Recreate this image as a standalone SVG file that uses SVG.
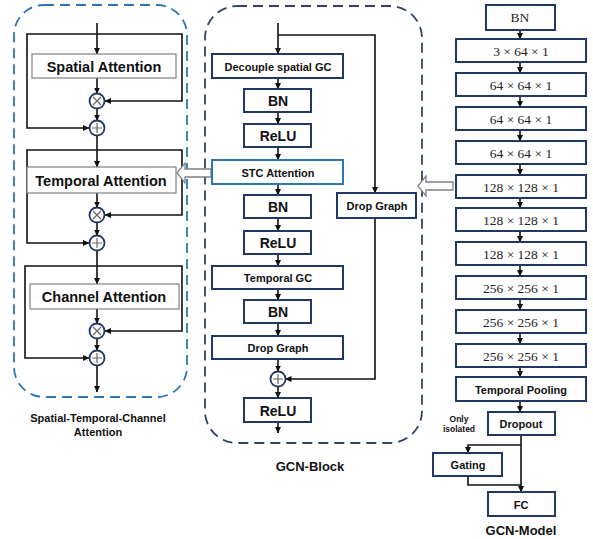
<svg xmlns="http://www.w3.org/2000/svg" width="593" height="539" viewBox="0 0 593 539">
<defs>
<marker id="ah" markerWidth="7" markerHeight="7" refX="6" refY="3.5" orient="auto" markerUnits="userSpaceOnUse">
<path d="M0,0.5 L6.5,3.5 L0,6.5 Z" fill="#111"/>
</marker>
</defs>
<style>
.ln{fill:none;stroke:#111;stroke-width:1.6}
.ar{fill:none;stroke:#111;stroke-width:1.6;marker-end:url(#ah)}
.ga{fill:#fff;stroke:#808080;stroke-width:1.2}
.nb{fill:#fff;stroke:#203864;stroke-width:2}
.bb{fill:#fff;stroke:#2E75B6;stroke-width:2}
.ci{fill:#fff;stroke:#203864;stroke-width:1.8}
.cm{stroke:#666;stroke-width:1.2;fill:none}
.t1{font-family:"Liberation Sans",Arial,sans-serif;font-weight:bold;font-size:14.5px;fill:#111;text-anchor:middle;dominant-baseline:central}
.t2{font-family:"Liberation Sans",Arial,sans-serif;font-weight:bold;font-size:11px;fill:#111;text-anchor:middle;dominant-baseline:central}
.t3{font-family:"Liberation Sans",Arial,sans-serif;font-weight:bold;font-size:14px;fill:#111;text-anchor:middle;dominant-baseline:central}
.tm{font-family:"Liberation Serif","Times New Roman",serif;font-size:13.5px;fill:#222;text-anchor:middle;dominant-baseline:central}
.lb{font-family:"Liberation Sans",Arial,sans-serif;font-weight:bold;font-size:11px;fill:#111;text-anchor:middle}
.lb2{font-family:"Liberation Sans",Arial,sans-serif;font-weight:bold;font-size:13px;fill:#111;text-anchor:middle}
.sm{font-family:"Liberation Sans",Arial,sans-serif;font-weight:bold;font-size:8.5px;fill:#111;text-anchor:middle}
.hol{fill:#fff;stroke:#808080;stroke-width:1.3}
</style>

<!-- panel borders -->
<rect x="14" y="5" width="173" height="392" rx="30" fill="none" stroke="#2E75B6" stroke-width="1.8" stroke-dasharray="10,6"/>
<rect x="205" y="6" width="217" height="437" rx="32" fill="none" stroke="#2F4466" stroke-width="1.8" stroke-dasharray="10,6"/>

<g id="connectors">
<!-- left panel -->
<path class="ar" d="M97,23 V54"/>
<path class="ar" d="M97,34 H27 V128 H89"/>
<path class="ar" d="M97,34 H182 V101 H105"/>
<path class="ar" d="M97,78 V93.5"/>
<path class="ar" d="M97,108.5 V120.5"/>
<path class="ar" d="M97,135.5 V167"/>
<path class="ar" d="M97,150 H27 V243 H89"/>
<path class="ar" d="M97,150 H182 V215 H105"/>
<path class="ar" d="M97,193 V207.5"/>
<path class="ar" d="M97,222.5 V235.5"/>
<path class="ar" d="M97,250.5 V284"/>
<path class="ar" d="M97,266 H25 V358 H89"/>
<path class="ar" d="M97,266 H182 V331 H105"/>
<path class="ar" d="M97,309 V323.5"/>
<path class="ar" d="M97,338.5 V350.5"/>
<path class="ar" d="M97,365.5 V392"/>
<!-- middle panel -->
<path class="ar" d="M278,23 V54"/>
<path class="ar" d="M278,35 H375 V193"/>
<path class="ar" d="M278,78 V89"/>
<path class="ar" d="M278,112 V124"/>
<path class="ar" d="M278,147 V160"/>
<path class="ar" d="M278,184 V195"/>
<path class="ar" d="M278,218 V231"/>
<path class="ar" d="M278,254 V266"/>
<path class="ar" d="M278,289 V300"/>
<path class="ar" d="M278,323 V336"/>
<path class="ar" d="M278,359 V371.5"/>
<path class="ar" d="M375,218 V379 H285.5"/>
<path class="ar" d="M278,386.5 V398"/>
<path class="ar" d="M278,422 V433"/>
<!-- right panel -->
<path class="ar" d="M520,30 V39"/>
<path class="ar" d="M520,62 V73"/>
<path class="ar" d="M520,96 V107"/>
<path class="ar" d="M520,130 V141"/>
<path class="ar" d="M520,164 V175"/>
<path class="ar" d="M520,198 V208"/>
<path class="ar" d="M520,231 V242"/>
<path class="ar" d="M520,265 V276"/>
<path class="ar" d="M520,299 V310"/>
<path class="ar" d="M520,333 V344"/>
<path class="ar" d="M520,367 V377"/>
<path class="ar" d="M520,401 V412"/>
<path class="ar" d="M521,435 V492"/>
<path class="ar" d="M521,445 H468 V453"/>
<path class="ln" d="M468,476 V485 H521"/>
<!-- hollow arrows -->
<path class="hol" d="M211,169 H185 V163 L177,173 L185,183 V177 H211 Z"/>
<path class="hol" d="M453,182 H426 V176 L418,186 L426,196 V190 H453 Z"/>
</g>

<!-- left panel nodes -->
<g id="spatial-attention"><rect class="ga" x="32" y="54" width="144" height="24"/><text class="t1" x="104" y="66.5">Spatial Attention</text></g>
<g id="mul1"><circle class="ci" cx="97" cy="101" r="7.5"/><path class="cm" d="M93,97 L101,105 M101,97 L93,105"/></g>
<g id="add1"><circle class="ci" cx="97" cy="128" r="7.5"/><path class="cm" d="M92,128 H102 M97,123 V133"/></g>
<g id="temporal-attention"><rect class="ga" x="27" y="167" width="149" height="26"/><text class="t1" x="101" y="180.5">Temporal Attention</text></g>
<g id="mul2"><circle class="ci" cx="97" cy="215" r="7.5"/><path class="cm" d="M93,211 L101,219 M101,211 L93,219"/></g>
<g id="add2"><circle class="ci" cx="97" cy="243" r="7.5"/><path class="cm" d="M92,243 H102 M97,238 V248"/></g>
<g id="channel-attention"><rect class="ga" x="30" y="284" width="149" height="25"/><text class="t1" x="104" y="296.5">Channel Attention</text></g>
<g id="mul3"><circle class="ci" cx="97" cy="331" r="7.5"/><path class="cm" d="M93,327 L101,335 M101,327 L93,335"/></g>
<g id="add3"><circle class="ci" cx="97" cy="358" r="7.5"/><path class="cm" d="M92,358 H102 M97,353 V363"/></g>
<g id="stc-label"><text class="lb" x="98" y="422">Spatial-Temporal-Channel</text><text class="lb" x="98" y="436">Attention</text></g>

<!-- middle panel nodes -->
<g id="decouple"><rect class="nb" x="212" y="54" width="131" height="24"/><text class="t2" x="278" y="66.5">Decouple spatial GC</text></g>
<g id="bn1"><rect class="nb" x="244" y="89" width="67" height="23"/><text class="t3" x="278" y="101">BN</text></g>
<g id="relu1"><rect class="nb" x="244" y="124" width="67" height="23"/><text class="t3" x="278" y="136">ReLU</text></g>
<g id="stc"><rect class="bb" x="212" y="160" width="131" height="24"/><text class="t2" x="278" y="172.5">STC Attention</text></g>
<g id="bn2"><rect class="nb" x="244" y="195" width="67" height="23"/><text class="t3" x="278" y="207">BN</text></g>
<g id="dropgraph-side"><rect class="nb" x="337" y="193" width="79" height="25"/><text class="t2" x="377" y="206">Drop Graph</text></g>
<g id="relu2"><rect class="nb" x="244" y="231" width="67" height="23"/><text class="t3" x="278" y="243">ReLU</text></g>
<g id="temporal-gc"><rect class="nb" x="212" y="266" width="131" height="23"/><text class="t2" x="278" y="278">Temporal GC</text></g>
<g id="bn3"><rect class="nb" x="244" y="300" width="67" height="23"/><text class="t3" x="278" y="312">BN</text></g>
<g id="dropgraph"><rect class="nb" x="212" y="336" width="131" height="23"/><text class="t2" x="278" y="348">Drop Graph</text></g>
<g id="add-mid"><circle class="ci" cx="278" cy="379" r="7.5"/><path class="cm" d="M273,379 H283 M278,374 V384"/></g>
<g id="relu3"><rect class="nb" x="244" y="398" width="67" height="24"/><text class="t3" x="278" y="410.5">ReLU</text></g>
<g id="gcn-block-label"><text class="lb2" x="310" y="471">GCN-Block</text></g>

<!-- right panel nodes -->
<g id="bn-in"><rect class="nb" x="486" y="5" width="69" height="25"/><text class="tm" x="520" y="17.5">BN</text></g>
<g id="l1"><rect class="nb" x="456" y="39" width="130" height="23"/><text class="tm" x="521" y="51">3 × 64 × 1</text></g>
<g id="l2"><rect class="nb" x="456" y="73" width="130" height="23"/><text class="tm" x="521" y="85">64 × 64 × 1</text></g>
<g id="l3"><rect class="nb" x="456" y="107" width="130" height="23"/><text class="tm" x="521" y="119">64 × 64 × 1</text></g>
<g id="l4"><rect class="nb" x="456" y="141" width="130" height="23"/><text class="tm" x="521" y="153">64 × 64 × 1</text></g>
<g id="l5"><rect class="nb" x="456" y="175" width="130" height="23"/><text class="tm" x="521" y="187">128 × 128 × 1</text></g>
<g id="l6"><rect class="nb" x="456" y="208" width="130" height="23"/><text class="tm" x="521" y="220">128 × 128 × 1</text></g>
<g id="l7"><rect class="nb" x="456" y="242" width="130" height="23"/><text class="tm" x="521" y="254">128 × 128 × 1</text></g>
<g id="l8"><rect class="nb" x="456" y="276" width="130" height="23"/><text class="tm" x="521" y="288">256 × 256 × 1</text></g>
<g id="l9"><rect class="nb" x="456" y="310" width="130" height="23"/><text class="tm" x="521" y="322">256 × 256 × 1</text></g>
<g id="l10"><rect class="nb" x="456" y="344" width="130" height="23"/><text class="tm" x="521" y="356">256 × 256 × 1</text></g>
<g id="pool"><rect class="nb" x="456" y="377" width="130" height="24"/><text class="t2" x="521" y="389.5">Temporal Pooling</text></g>
<g id="dropout"><rect class="nb" x="488" y="412" width="67" height="23"/><text class="t2" x="521" y="424">Dropout</text></g>
<g id="only-isolated"><text class="sm" x="459" y="422">Only</text><text class="sm" x="459" y="432">isolated</text></g>
<g id="gating"><rect class="nb" x="433" y="453" width="69" height="23"/><text class="t2" x="468" y="465">Gating</text></g>
<g id="fc"><rect class="nb" x="488" y="492" width="67" height="24"/><text class="t2" x="521" y="504.5">FC</text></g>
<g id="gcn-model-label"><text class="lb2" x="521" y="535">GCN-Model</text></g>
</svg>
